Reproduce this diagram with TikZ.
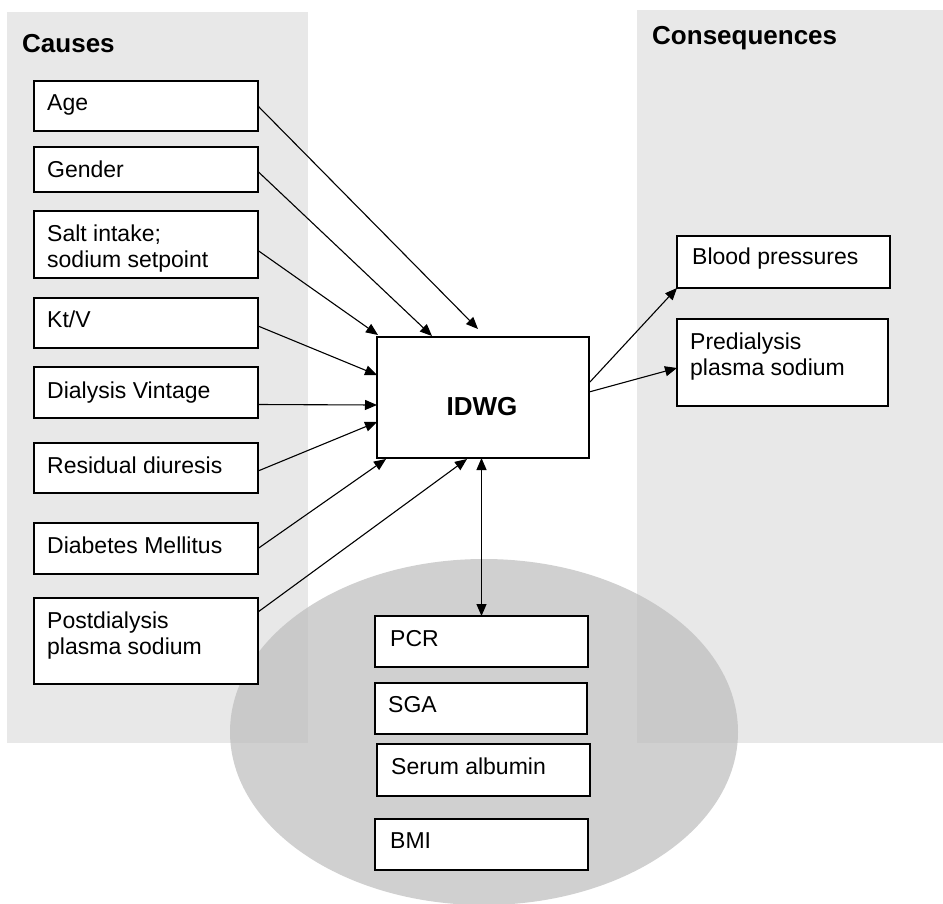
\documentclass[tikz,border=0pt]{standalone}
\usepackage{fontspec}
\setmainfont{Liberation Sans}
\usetikzlibrary{arrows.meta}
\definecolor{panel}{RGB}{232,232,232}
\definecolor{ellgray}{RGB}{188,188,188}
\newcommand\twolines[2]{\parbox[t]{210pt}{#1\\#2}}
\begin{document}
\begin{tikzpicture}[x=1pt,y=-1pt,
  box/.style={draw=black, line width=1.3pt, fill=white, rectangle, inner sep=0pt, outer sep=0pt, anchor=north west},
  txt/.style={anchor=base west, inner sep=0pt, font=\fontsize{23}{26.5}\selectfont},
  conn/.style={draw=black, line width=1.1pt, -{Triangle[length=12pt,width=10pt]}},
  bidir/.style={draw=black, line width=1.1pt, {Triangle[length=12pt,width=10pt]}-{Triangle[length=12pt,width=10pt]}},
  title/.style={anchor=base west, inner sep=0pt, font=\fontsize{26}{30}\selectfont\bfseries}]
\useasboundingbox (0,0) rectangle (943,903);
\clip (0,0) rectangle (943,903);
% panels
\fill[panel] (7,12) rectangle (308,743);
\fill[panel] (637,10) rectangle (943,743);
% ellipse
\fill[ellgray, fill opacity=0.7] (484,732) ellipse [x radius=254, y radius=173];
% titles
\node[title] (causes) at (22,52) {Causes};
\node[title] (cons) at (652,44) {Consequences};
% left boxes
\node[box, minimum width=224pt, minimum height=50pt] (age) at (34,81) {};
\node[box, minimum width=224pt, minimum height=45pt] (gender) at (34,147) {};
\node[box, minimum width=224pt, minimum height=67pt] (salt) at (34,211) {};
\node[box, minimum width=224pt, minimum height=50pt] (ktv) at (34,298) {};
\node[box, minimum width=224pt, minimum height=51pt] (vint) at (34,367) {};
\node[box, minimum width=224pt, minimum height=50pt] (resid) at (34,443) {};
\node[box, minimum width=224pt, minimum height=51pt] (diab) at (34,523) {};
\node[box, minimum width=224pt, minimum height=86pt] (post) at (34,598) {};
\node[txt] (agetxt) at ([xshift=13pt,yshift=-29pt]age.north west) {Age};
\node[txt] (gendertxt) at ([xshift=13pt,yshift=-30pt]gender.north west) {Gender};
\node[txt] (salttxt) at ([xshift=13pt,yshift=-30pt]salt.north west) {\twolines{Salt intake;}{sodium setpoint}};
\node[txt] (ktvtxt) at ([xshift=13pt,yshift=-29pt]ktv.north west) {Kt/V};
\node[txt] (vinttxt) at ([xshift=13pt,yshift=-31pt]vint.north west) {Dialysis Vintage};
\node[txt] (residtxt) at ([xshift=13pt,yshift=-30pt]resid.north west) {Residual diuresis};
\node[txt] (diabtxt) at ([xshift=13pt,yshift=-30pt]diab.north west) {Diabetes Mellitus};
\node[txt] (posttxt) at ([xshift=13pt,yshift=-30pt]post.north west) {\twolines{Postdialysis}{plasma sodium}};
% central box
\node[box, minimum width=212pt, minimum height=121pt] (idwg) at (377,337) {};
\node[anchor=base, inner sep=0pt, font=\fontsize{26}{30}\selectfont\bfseries] (idwgtxt) at ([xshift=105pt,yshift=-78pt]idwg.north west) {IDWG};
% right boxes
\node[box, minimum width=213pt, minimum height=52pt] (bp) at (677,236) {};
\node[box, minimum width=211pt, minimum height=87pt] (pred) at (677,319) {};
\node[txt] (bptxt) at ([xshift=15pt,yshift=-28pt]bp.north west) {Blood pressures};
\node[txt] (predtxt) at ([xshift=13pt,yshift=-30pt]pred.north west) {\twolines{Predialysis}{plasma sodium}};
% bottom boxes
\node[box, minimum width=213pt, minimum height=51pt] (pcr) at (375,616) {};
\node[box, minimum width=212pt, minimum height=51pt] (sga) at (375,683) {};
\node[box, minimum width=213pt, minimum height=52pt] (serum) at (377,744) {};
\node[box, minimum width=213pt, minimum height=51pt] (bmi) at (375,819) {};
\node[txt] (pcrtxt) at ([xshift=15pt,yshift=-30pt]pcr.north west) {PCR};
\node[txt] (sgatxt) at ([xshift=13pt,yshift=-29pt]sga.north west) {SGA};
\node[txt] (serumtxt) at ([xshift=14pt,yshift=-30pt]serum.north west) {Serum albumin};
\node[txt] (bmitxt) at ([xshift=15pt,yshift=-29pt]bmi.north west) {BMI};
% connectors
\draw[conn] (age.east) -- ([xshift=101pt,yshift=8pt]idwg.north west);
\draw[conn] ([yshift=-2pt]gender.east) -- ([xshift=55pt,yshift=1pt]idwg.north west);
\draw[conn] ([yshift=-6pt]salt.east) -- ([xshift=1pt,yshift=2pt]idwg.north west);
\draw[conn] ([yshift=-3pt]ktv.east) -- ([yshift=-38pt]idwg.north west);
\draw[conn] ([yshift=-12pt]vint.east) -- ([yshift=-68pt]idwg.north west);
\draw[conn] ([yshift=-3pt]resid.east) -- ([yshift=-85pt]idwg.north west);
\draw[conn] (diab.east) -- ([xshift=9pt,yshift=-1pt]idwg.south west);
\draw[conn] ([yshift=-14pt]post.north east) -- ([xshift=90pt,yshift=-1pt]idwg.south west);
\draw[bidir] (pcr.north) -- (pcr.north |- idwg.south);
\draw[conn] ([yshift=-46pt]idwg.north east) -- (bp.south west);
\draw[conn] ([yshift=-55pt]idwg.north east) -- ([yshift=-49pt]pred.north west);
\end{tikzpicture}
\end{document}
